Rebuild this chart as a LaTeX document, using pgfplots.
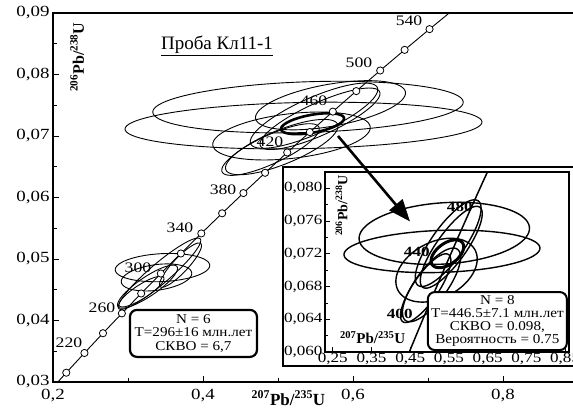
\documentclass[border=0pt]{standalone}
\usepackage{fontspec}
\setmainfont{Liberation Serif}
\newfontfamily\widefont[FakeStretch=1.22]{Liberation Serif}
\newfontfamily\boxfont[FakeStretch=1.12]{Liberation Serif}
\usepackage{pgfplots}
\usepackage{pgfplotstable}
\pgfplotsset{compat=1.18}
\usetikzlibrary{arrows.meta}

% concordia points (t = 180..560 Ma, step 20)
\pgfplotstableread{
x y
0.19396 0.028316
0.21771 0.031511
0.24193 0.034717
0.26664 0.037932
0.29183 0.041157
0.31753 0.044392
0.34374 0.047638
0.37047 0.050893
0.39773 0.054158
0.42553 0.057434
0.45389 0.060719
0.48281 0.064016
0.51231 0.067322
0.54239 0.070638
0.57307 0.073965
0.60436 0.077302
0.63628 0.080650
0.66883 0.084007
0.70203 0.087376
0.73588 0.090755
}\concordia

\pgfplotstableread{
x y
0.21771 0.031511
0.24193 0.034717
0.26664 0.037932
0.29183 0.041157
0.31753 0.044392
0.34374 0.047638
0.37047 0.050893
0.39773 0.054158
0.42553 0.057434
0.45389 0.060719
0.48281 0.064016
0.51231 0.067322
0.54239 0.070638
0.57307 0.073965
0.60436 0.077302
0.63628 0.080650
0.66883 0.084007
0.70203 0.087376
}\concmarks

% error ellipse: [style]{cx}{cy}{half width}{half height}{rho}
\newcommand{\ellip}[6][]{%
 \addplot[black, line width=0.9pt, domain=0:360, samples=91, variable=\t, #1]
 ({#2+#4*cos(\t)}, {#3+#5*(#6*cos(\t)+sqrt(1-#6*#6)*sin(\t))});}

\newcommand{\uppercommon}[1]{%
 \ellip[#1]{0.548}{0.0733}{0.085}{0.0053}{0.80}
 \ellip[#1]{0.556}{0.0728}{0.080}{0.0050}{0.82}
 \ellip[#1]{0.518}{0.0700}{0.105}{0.0039}{0.35}
 \ellip[#1]{0.490}{0.0678}{0.065}{0.0042}{0.80}
 \ellip[#1]{0.505}{0.0682}{0.075}{0.0045}{0.75}
}

\begin{document}
\begin{tikzpicture}
\useasboundingbox (0,0) rectangle (573pt,414pt);
\clip (0,0) rectangle (573pt,414pt);

\begin{axis}[
  name=main, at={(53pt,32pt)}, anchor=south west,
  scale only axis, width=525pt, height=369pt,
  xmin=0.2, xmax=0.9, ymin=0.03, ymax=0.09,
  scaled x ticks=false, scaled y ticks=false,
  xtick={0.2,0.4,0.6,0.8}, minor xtick={0.3,0.5,0.7},
  ytick={0.03,0.04,0.05,0.06,0.07,0.08,0.09},
  minor ytick={0.035,0.045,0.055,0.065,0.075,0.085},
  tick align=inside, tick pos=left,
  major tick length=6pt, minor tick length=4pt,
  every tick/.style={black, line width=0.8pt},
  axis line style={line width=1.3pt},
  tick label style={font=\fontsize{15.5}{16}\widefont},
  xticklabel style={yshift=-4pt, /pgf/number format/fixed, /pgf/number format/fixed zerofill, /pgf/number format/precision=1, /pgf/number format/use comma, /pgf/number format/assume math mode=true},
  yticklabel style={/pgf/number format/fixed, /pgf/number format/fixed zerofill, /pgf/number format/precision=2, /pgf/number format/use comma, /pgf/number format/assume math mode=true},
]
% lower group
\ellip{0.346}{0.0486}{0.063}{0.0023}{0.15}
\ellip{0.338}{0.0470}{0.047}{0.0022}{0.30}
\ellip{0.342}{0.0476}{0.055}{0.0058}{0.93}
\ellip{0.370}{0.0490}{0.028}{0.0036}{0.88}
\ellip{0.318}{0.0447}{0.030}{0.0025}{0.85}
\ellip{0.326}{0.0455}{0.040}{0.0035}{0.85}
% upper group
\ellip{0.540}{0.0747}{0.207}{0.0042}{0.19}
\ellip{0.534}{0.0717}{0.238}{0.0038}{0.15}
\ellip{0.570}{0.0750}{0.100}{0.0040}{0.50}
\uppercommon{line width=0.9pt}
\ellip[line width=2.6pt]{0.546}{0.0720}{0.042}{0.0017}{0.5}
% concordia
\addplot[black, line width=0.9pt] table {\concordia};
\addplot[only marks, mark=*, mark size=3.6pt, mark options={fill=white, draw=black, line width=0.8pt}] table {\concmarks};
% age labels
\begin{scope}[every node/.style={font=\fontsize{14.5}{15}\widefont, inner sep=0pt}]
\node at (axis cs:0.2213,0.03636) {220};
\node at (axis cs:0.2653,0.04207) {260};
\node at (axis cs:0.3133,0.04859) {300};
\node at (axis cs:0.3693,0.05511) {340};
\node at (axis cs:0.4267,0.06131) {380};
\node at (axis cs:0.4893,0.06913) {420};
\node at (axis cs:0.5480,0.07565) {460};
\node at (axis cs:0.6080,0.08185) {500};
\node at (axis cs:0.6747,0.08870) {540};
\end{scope}
\node[font=\fontsize{19}{19}\selectfont] at (axis cs:0.4187,0.08462) {\underline{Проба Кл11-1}};
\node[rotate=90, font=\fontsize{16}{16}\selectfont\bfseries] at (axis cs:0.232,0.0828) {\textsuperscript{206}Pb/\textsuperscript{238}U};
\node[draw, line width=2.2pt, rounded corners=7pt, fill=white, align=center,
      minimum width=127pt, minimum height=47pt, inner sep=1pt,
      font=\fontsize{13.5}{13.5}\boxfont] at (axis cs:0.3873,0.0379)
      {N = 6\\T=296±16 млн.лет\\СКВО = 6,7};
\coordinate (xlab) at (axis cs:0.514,0.03);
\coordinate (aS) at (axis cs:0.580,0.0700);
\coordinate (aE) at (axis cs:0.676,0.0561);
\end{axis}
\node[font=\fontsize{17}{17}\selectfont\bfseries] at ([yshift=-16pt]xlab) {\textsuperscript{207}Pb/\textsuperscript{235}U};

% inset frame
\draw[line width=1.3pt, fill=white] (283pt,48pt) rectangle (590pt,247pt);

\begin{axis}[
  name=inset, at={(325pt,62pt)}, anchor=south west,
  scale only axis, width=244pt, height=180pt,
  xmin=0.23, xmax=0.86, ymin=0.06, ymax=0.082,
  scaled x ticks=false, scaled y ticks=false,
  xtick={0.25,0.35,0.45,0.55,0.65,0.75,0.85},
  ytick={0.060,0.064,0.068,0.072,0.076,0.080},
  minor ytick={0.062,0.066,0.070,0.074,0.078},
  tick align=inside, tick pos=left,
  major tick length=5pt, minor tick length=3pt,
  every tick/.style={black, line width=0.7pt},
  axis line style={line width=1.1pt},
  tick label style={font=\fontsize{14}{14}\widefont},
  xticklabel style={yshift=2pt, /pgf/number format/fixed, /pgf/number format/fixed zerofill, /pgf/number format/precision=2, /pgf/number format/use comma, /pgf/number format/assume math mode=true},
  yticklabel style={xshift=1pt, /pgf/number format/fixed, /pgf/number format/fixed zerofill, /pgf/number format/precision=3, /pgf/number format/use comma, /pgf/number format/assume math mode=true},
]
\ellip[line width=1.4pt]{0.538}{0.0745}{0.220}{0.0038}{0.16}
\ellip[line width=1.4pt]{0.532}{0.0723}{0.253}{0.0026}{0.15}
\uppercommon{line width=1.4pt}
\ellip[line width=3pt]{0.546}{0.0720}{0.042}{0.0017}{0.5}
\addplot[black, line width=1.5pt] table {\concordia};
\begin{scope}[every node/.style={font=\fontsize{14}{14}\widefont\bfseries, inner sep=0pt}]
\node at (axis cs:0.578,0.0777) {480};
\node at (axis cs:0.467,0.0722) {440};
\node at (axis cs:0.423,0.0646) {400};
\end{scope}
\node[rotate=90, font=\fontsize{14}{14}\selectfont\bfseries] at (axis cs:0.273,0.0779) {\textsuperscript{206}Pb/\textsuperscript{238}U};
\node[font=\fontsize{15}{15}\selectfont\bfseries] at (axis cs:0.353,0.0618) {\textsuperscript{207}Pb/\textsuperscript{235}U};
\node[draw, line width=2pt, rounded corners=7pt, fill=white, align=center,
      minimum width=139pt, minimum height=58pt, inner sep=1pt,
      font=\fontsize{13.5}{12.8}\boxfont] at (axis cs:0.675,0.06378)
      {N = 8\\T=446.5±7.1 млн.лет\\СКВО = 0.098,\\Вероятность = 0.75};
\end{axis}

\draw[line width=2.6pt, -{Triangle[length=22pt,width=17pt]}] (aS) -- (aE);
\end{tikzpicture}
\end{document}
